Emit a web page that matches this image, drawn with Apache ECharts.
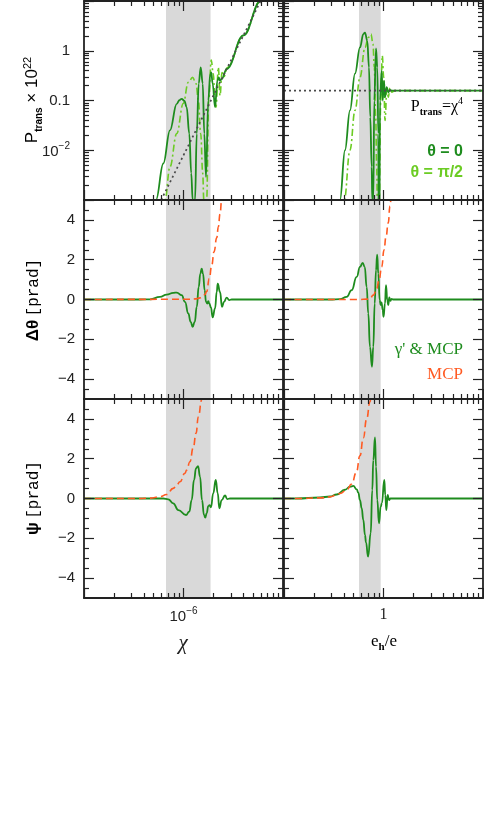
<!DOCTYPE html>
<html><head><meta charset="utf-8">
<script src="https://cdn.jsdelivr.net/npm/echarts@6/dist/echarts.min.js"></script>
<style>html,body{margin:0;padding:0;background:#fff}#c{width:484px;height:830px}</style>
</head><body><div id="c"></div>
<script>
// ---------- tick values ----------
const chiMajor = [1e-7, 1e-6, 1e-5];
const chiMinor = [2e-7,3e-7,4e-7,5e-7,6e-7,7e-7,8e-7,9e-7,2e-6,3e-6,4e-6,5e-6,6e-6,7e-6,8e-6,9e-6];
const ehMajor = [0.1, 1, 10];
const ehMinor = [0.2,0.3,0.4,0.5,0.6,0.7,0.8,0.9,2,3,4,5,6,7,8,9];
const pMajor = [1e-3, 1e-2, 0.1, 1, 10];
const pMinor = [2e-3,3e-3,4e-3,5e-3,6e-3,7e-3,8e-3,9e-3,0.02,0.03,0.04,0.05,0.06,0.07,0.08,0.09,0.2,0.3,0.4,0.5,0.6,0.7,0.8,0.9,2,3,4,5,6,7,8,9];
const linMajor = [-4, -2, 0, 2, 4];
const linMinor = [-4.5,-3.5,-3,-2.5,-1.5,-1,-0.5,0.5,1,1.5,2.5,3,3.5,4.5];
const pLabels = [1e-2, 0.1, 1];
const linLabels = [-4, -2, 0, 2, 4];
const chiLabels = [1e-6];
const ehLabels = [1];

// ---------- shaded bands ----------
const chiBand = [6.67e-7, 1.87e-6];
const ehBand = [0.567, 0.937];

// ---------- top-left: P_trans vs chi ----------
const ptChiTheta0 = [
 [5.0e-7,6e-4],[5.29e-7,1.0e-3],[6.27e-7,5.42e-3],[7.31e-7,0.0251],[8.55e-7,0.0859],[9.12e-7,0.102],
 [9.59e-7,0.108],[1.023e-6,0.0977],[1.076e-6,0.0735],[1.143e-6,0.0216],[1.196e-6,3.47e-3],[1.236e-6,1.0e-3],
 [1.27e-6,1e-5],[1.306e-6,1.0e-3],[1.359e-6,0.0216],[1.422e-6,0.219],[1.489e-6,0.463],[1.560e-6,0.219],
 [1.618e-6,0.0216],[1.683e-6,2.92e-3],[1.774e-6,0.1],[1.858e-6,0.342],[1.901e-6,0.368],[1.963e-6,0.219],
 [2.075e-6,0.0735],[2.188e-6,0.251],[2.260e-6,0.292],[2.328e-6,0.251],[2.421e-6,0.272],[2.716e-6,0.43],
 [4.0e-6,2.03],[5.96e-6,10],[7.0e-6,19]
];
const ptChiThetaHalfPi = [
 [6.08e-7,6.3e-4],[6.52e-7,1.0e-3],[7.31e-7,4.63e-3],[8.55e-7,0.0216],[9.95e-7,0.0871],[1.117e-6,0.232],
 [1.236e-6,0.292],[1.337e-6,0.219],[1.410e-6,0.1],[1.489e-6,0.0216],[1.560e-6,3.47e-3],[1.60e-6,1.0e-3],
 [1.644e-6,1e-5],[1.710e-6,1.0e-3],[1.791e-6,0.1],[1.901e-6,0.652],[1.990e-6,0.347],[2.075e-6,0.1],
 [2.123e-6,0.0735],[2.239e-6,0.463],[2.328e-6,0.126],[2.438e-6,0.363],[2.553e-6,0.302],[2.754e-6,0.46],
 [4.0e-6,2.03],[5.96e-6,10],[7.0e-6,19]
];
const ptChiAsym = [[5.96e-7,1e-3],[5.96e-6,10]];

// ---------- top-right: P_trans vs e_h/e ----------
const ptEhTheta0 = [
 [0.350,6.5e-4],[0.3654,1.0e-3],[0.410,0.01],[0.4605,0.0631],[0.5171,0.347],[0.5804,1.164],[0.6266,2.158],
 [0.6516,2.32],[0.6871,1.585],[0.7146,0.463],[0.7364,0.0463],[0.7607,4.63e-3],[0.7713,1.0e-3],[0.780,1e-5],
 [0.7894,1.0e-3],[0.8081,0.1],[0.8406,1.112],[0.8664,0.463],[0.8865,0.0216],[0.9011,1e-5],[0.9222,0.1],
 [0.9592,0.398],[0.9817,0.1],[1.0116,0.251],[1.035,0.116],[1.076,0.1845],[1.117,0.1466],[1.161,0.1637],
 [1.216,0.158],[10,0.158]
];
const ptEhThetaHalfPi = [
 [0.392,6.3e-4],[0.4036,1.0e-3],[0.4605,0.01],[0.5171,0.0631],[0.5804,0.292],[0.6516,1.164],[0.7031,1.845],
 [0.7485,2.158],[0.7840,1.361],[0.8081,0.463],[0.8348,0.0463],[0.8545,4.63e-3],[0.8664,1.0e-3],[0.884,1e-5],
 [0.9073,1.0e-3],[0.9374,0.1],[0.9725,0.794],[1.0046,0.292],[1.035,0.0398],[1.084,0.1845],[1.117,0.116],
 [1.161,0.179],[1.208,0.1466],[1.306,0.158],[10,0.158]
];
const ptEhAsym = [[0.1,0.158],[10,0.158]];

// ---------- middle: delta theta ----------
const dthChiFull = [
 [1e-7,0],[3.65e-7,0],[4.61e-7,0.01],[5.80e-7,0.13],[6.78e-7,0.25],[7.88e-7,0.33],[8.55e-7,0.35],
 [9.59e-7,0.22],[1.035e-6,-0.12],[1.117e-6,-0.70],[1.180e-6,-1.12],[1.236e-6,-1.37],[1.297e-6,-1.12],
 [1.359e-6,-0.37],[1.422e-6,0.63],[1.476e-6,1.30],[1.524e-6,1.55],[1.570e-6,1.30],[1.633e-6,0.47],
 [1.683e-6,-0.12],[1.734e-6,-0.20],[1.774e-6,-0.08],[1.816e-6,-0.20],[1.888e-6,-0.40],[1.963e-6,-0.90],
 [2.075e-6,-0.45],[2.158e-6,0.38],[2.208e-6,0.80],[2.328e-6,0.38],[2.438e-6,-0.37],[2.553e-6,-0.12],
 [2.716e-6,0.09],[2.884e-6,-0.03],[3.048e-6,0],[1e-5,0]
];
const dthChiMcp = [
 [1e-7,0],[1.161e-6,0.01],[1.306e-6,0.03],[1.466e-6,0.08],[1.570e-6,0.15],[1.644e-6,0.25],[1.710e-6,0.40],
 [1.816e-6,1.05],[1.919e-6,1.70],[2.028e-6,2.40],[2.158e-6,3.10],[2.239e-6,3.65],[2.328e-6,4.30],
 [2.421e-6,5.0],[2.5e-6,5.5]
];
const dthEhFull = [
 [0.1,0],[0.290,0],[0.3654,0.02],[0.4266,0.13],[0.4786,0.47],[0.5379,1.14],[0.5804,1.64],[0.618,1.84],
 [0.6471,1.64],[0.6776,0.63],[0.7031,-0.70],[0.7313,-2.38],[0.7660,-3.38],[0.7894,-2.38],[0.8157,-0.20],
 [0.8406,1.47],[0.864,2.26],[0.8865,1.30],[0.9158,-0.03],[0.9374,-0.28],[0.955,-0.14],[0.9817,-0.54],
 [1.0,-0.87],[1.035,-0.20],[1.059,0.72],[1.092,-0.03],[1.117,-0.28],[1.143,0.10],[1.170,-0.07],
 [1.208,0.03],[1.246,0],[10,0]
];
const dthEhMcp = [
 [0.1,0],[0.5804,0],[0.6776,0.02],[0.7313,0.05],[0.7894,0.22],[0.8545,0.55],[0.9011,0.97],[0.9592,1.64],
 [1.0116,2.48],[1.059,3.15],[1.117,3.85],[1.161,4.7],[1.19,5.2]
];

// ---------- bottom: psi ----------
const psiChiFull = [
 [1e-7,0],[5.80e-7,0],[6.27e-7,0.0],[7.03e-7,-0.04],[7.88e-7,-0.24],[8.87e-7,-0.58],[1.059e-6,-0.83],
 [1.143e-6,-0.66],[1.208e-6,-0.08],[1.276e-6,0.93],[1.337e-6,1.52],[1.400e-6,1.63],[1.466e-6,1.10],
 [1.535e-6,-0.08],[1.607e-6,-0.83],[1.656e-6,-0.96],[1.710e-6,-0.74],[1.774e-6,-0.38],[1.832e-6,-0.33],
 [1.888e-6,-0.44],[1.990e-6,0.26],[2.109e-6,0.93],[2.208e-6,0.26],[2.291e-6,-0.49],[2.421e-6,-0.08],
 [2.612e-6,0.15],[2.754e-6,-0.03],[2.93e-6,0],[1e-5,0]
];
const psiChiMcp = [
 [1e-7,0],[3.65e-7,0],[4.61e-7,0.02],[5.80e-7,0.09],[6.78e-7,0.2],[7.88e-7,0.51],[8.55e-7,0.68],
 [9.22e-7,0.84],[1.035e-6,1.27],[1.076e-6,1.43],[1.161e-6,1.85],[1.253e-6,2.56],[1.337e-6,3.28],
 [1.410e-6,4.11],[1.524e-6,4.95],[1.553e-6,5.2]
];
const psiEhFull = [
 [0.1,0],[0.134,0],[0.230,0.05],[0.290,0.1],[0.3385,0.2],[0.410,0.44],[0.4605,0.59],[0.4971,0.63],
 [0.5379,0.46],[0.5580,0.30],[0.5804,-0.08],[0.6037,-0.49],[0.6266,-1.08],[0.6516,-1.83],[0.6668,-2.2],
 [0.700,-2.92],[0.7434,-1.75],[0.7713,0.43],[0.7894,1.93],[0.8214,3.07],[0.8406,1.60],[0.8664,-0.08],
 [0.9011,-1.25],[0.9374,-0.41],[0.963,-0.23],[1.0186,0.93],[1.042,0.18],[1.067,-0.58],[1.102,0.18],
 [1.136,-0.08],[1.175,0],[10,0]
];
const psiEhMcp = [
 [0.1,0],[0.134,0],[0.230,0.03],[0.290,0.08],[0.3385,0.18],[0.3654,0.25],[0.4266,0.43],[0.4786,0.73],
 [0.5328,1.30],[0.5804,2.15],[0.6266,3.04],[0.6776,4.0],[0.7313,4.85],[0.7485,5.15]
];

// ---------- styling ----------
const DG = '#1e8c1e', LG = '#6ccc24', OR = '#ff5a22', DOT = '#4a4a4a', INK = '#222';
const SANS = 'Liberation Sans', SERIF = 'Liberation Serif', MONO = 'Liberation Mono';

const grids = [
  {left:84, top:1, width:199, height:199},
  {left:284, top:1, width:199, height:199},
  {left:84, top:200, width:199, height:199},
  {left:284, top:200, width:199, height:199},
  {left:84, top:399, width:199, height:199},
  {left:284, top:399, width:199, height:199}
];

const xAxes = [], yAxes = [];
function pushAxes(list, gridIndex, isX, type, min, max, majors, minors, label) {
  const idx = list.length;
  const sides = isX ? ['bottom','top'] : ['left','right'];
  sides.forEach((side, k) => {
    [true, false].forEach(major => {
      const ax = {
        gridIndex, type, min, max, position: side, z: 10,
        splitLine: {show:false}, minorTick:{show:false}, minorSplitLine:{show:false},
        axisLine: {show: major, onZero:false, lineStyle:{color:INK, width:1.8}},
        axisTick: {show:true, inside:true, length: major?10:5, customValues: major?majors:minors,
                   lineStyle:{color:INK, width:1.2}},
        axisLabel: {show:false},
        axisPointer: {show:false}
      };
      if (type === 'log') ax.logBase = 10;
      if (major && k === 0 && label) ax.axisLabel = Object.assign({show:true}, label);
      list.push(ax);
    });
  });
  return idx;
}
const richTick = {
  n:{fontSize:15, fontFamily:SANS, color:INK, verticalAlign:'bottom'},
  sup:{fontSize:10, fontFamily:SANS, color:INK, verticalAlign:'bottom', padding:[0,0,8,0]}
};
const pLabel = {customValues:pLabels, margin:14, fontSize:15, fontFamily:SANS, color:INK, rich:richTick,
  formatter: v => { const e = Math.round(Math.log10(v)); return e === -2 ? '{n|10}{sup|−2}' : (e === -1 ? '{n|0.1}' : '{n|1}'); }};
const linLabel = {customValues:linLabels, margin:9, fontSize:15, fontFamily:SANS, color:INK,
  formatter: v => String(v).replace('-', '−')};
const chiLabel = {customValues:chiLabels, margin:8, fontSize:15, fontFamily:SANS, color:INK, rich:richTick,
  formatter: () => '{n|10}{sup|−6}'};
const ehLabel = {customValues:ehLabels, margin:9, fontSize:16, fontFamily:SERIF, color:INK, formatter: () => '1'};

const xMain = [], yMain = [];
for (let g = 0; g < 6; g++) {
  const left = g % 2 === 0, row = Math.floor(g / 2);
  xMain[g] = left
    ? pushAxes(xAxes, g, true, 'log', 1e-7, 1e-5, chiMajor, chiMinor, row === 2 ? chiLabel : null)
    : pushAxes(xAxes, g, true, 'log', 0.1, 10, ehMajor, ehMinor, row === 2 ? ehLabel : null);
  yMain[g] = row === 0
    ? pushAxes(yAxes, g, false, 'log', 1e-3, 10, pMajor, pMinor, left ? pLabel : null)
    : pushAxes(yAxes, g, false, 'value', -5, 5, linMajor, linMinor, left ? linLabel : null);
}

function line(g, data, color, width, type, z, smooth) {
  return {type:'line', xAxisIndex:xMain[g], yAxisIndex:yMain[g], data, symbol:'none', showSymbol:false,
    smooth: smooth === undefined ? 0.5 : smooth, smoothMonotone:'x', clip:true, silent:true, z,
    lineStyle:{color, width, type}};
}
function band(g, range) {
  return {type:'line', xAxisIndex:xMain[g], yAxisIndex:yMain[g], data:[], silent:true, z:1,
    markArea:{silent:true, z:1, itemStyle:{color:'#d9d9d9', opacity:1}, label:{show:false},
      data:[[{xAxis:range[0]},{xAxis:range[1]}]]}};
}

const series = [
  band(0, chiBand), band(1, ehBand), band(2, chiBand), band(3, ehBand), band(4, chiBand), band(5, ehBand),
  line(0, ptChiThetaHalfPi, LG, 1.6, [7,3,2,3], 3, 0.4),
  line(0, ptChiTheta0, DG, 1.8, 'solid', 4, 0.4),
  line(0, ptChiAsym, DOT, 1.7, [2,3], 5, false),
  line(1, ptEhThetaHalfPi, LG, 1.6, [7,3,2,3], 3, 0.4),
  line(1, ptEhTheta0, DG, 1.8, 'solid', 4, 0.4),
  line(1, ptEhAsym, DOT, 1.7, [2,3], 5, false),
  line(2, dthChiFull, DG, 1.8, 'solid', 3),
  line(2, dthChiMcp, OR, 1.6, [7,4], 4),
  line(3, dthEhFull, DG, 1.8, 'solid', 3),
  line(3, dthEhMcp, OR, 1.6, [7,4], 4),
  line(4, psiChiFull, DG, 1.8, 'solid', 3),
  line(4, psiChiMcp, OR, 1.6, [7,4], 4),
  line(5, psiEhFull, DG, 1.8, 'solid', 3),
  line(5, psiEhMcp, OR, 1.6, [7,4], 4)
];

const titleRich = {
  n:{fontSize:17, fontFamily:SANS, color:INK, verticalAlign:'bottom', padding:[0,0,3,0]},
  sub:{fontSize:10, fontFamily:SANS, fontWeight:'bold', color:INK, verticalAlign:'bottom'},
  sup:{fontSize:11, fontFamily:SANS, color:INK, verticalAlign:'bottom', padding:[0,0,11,0]},
  g:{fontSize:17, fontFamily:SANS, fontWeight:'bold', color:INK, verticalAlign:'bottom'},
  m:{fontSize:16, fontFamily:MONO, color:INK, verticalAlign:'bottom'}
};
function txt(x, y, text, rich, rot) {
  return {type:'text', x, y, rotation: rot || 0, z:20, silent:true,
    style:{text, rich, align:'center', verticalAlign:'middle'}};
}
const graphics = [
  txt(33, 100, '{n|P}{sub|trans}{n| × 10}{sup|22}', titleRich, Math.PI/2),
  txt(33, 300, '{g|Δθ} {m|[prad]}', titleRich, Math.PI/2),
  txt(33, 498, '{g|ψ} {m|[prad]}', titleRich, Math.PI/2),
  {type:'text', x:183, y:643, z:20, silent:true, style:{text:'χ', fontSize:21, fontStyle:'italic', fontFamily:SERIF, fill:INK, align:'center', verticalAlign:'middle'}},
  txt(384, 643, '{a|e}{b|h}{a|/e}', {
    a:{fontSize:17, fontFamily:SERIF, color:INK, verticalAlign:'bottom', padding:[0,0,3,0]},
    b:{fontSize:11, fontFamily:SERIF, fontWeight:'bold', color:INK, verticalAlign:'bottom'}}, 0),
  {type:'text', x:463, y:107, z:20, silent:true, style:{text:'{a|P}{b|trans}{a|=χ}{c|4}', align:'right', verticalAlign:'middle',
    rich:{a:{fontSize:16, fontFamily:SERIF, color:'#444', verticalAlign:'bottom', padding:[0,0,3,0]},
          b:{fontSize:10, fontFamily:SERIF, fontWeight:'bold', color:'#444', verticalAlign:'bottom'},
          c:{fontSize:10, fontFamily:SERIF, color:'#444', verticalAlign:'bottom', padding:[0,0,11,0]}}}},
  {type:'text', x:463, y:152, z:20, silent:true, style:{text:'θ = 0', fontSize:16, fontWeight:'bold', fontFamily:SANS, fill:DG, align:'right', verticalAlign:'middle'}},
  {type:'text', x:463, y:173, z:20, silent:true, style:{text:'θ = π/2', fontSize:16, fontWeight:'bold', fontFamily:SANS, fill:LG, align:'right', verticalAlign:'middle'}},
  {type:'text', x:463, y:350, z:20, silent:true, style:{text:"γ' & MCP", fontSize:17, fontFamily:SERIF, fill:DG, align:'right', verticalAlign:'middle'}},
  {type:'text', x:463, y:375, z:20, silent:true, style:{text:'MCP', fontSize:17, fontFamily:SERIF, fill:OR, align:'right', verticalAlign:'middle'}}
];

const chart = echarts.init(document.getElementById('c'), null, {renderer:'canvas'});
chart.setOption({
  animation:false,
  backgroundColor:'#fff',
  grid: grids,
  xAxis: xAxes,
  yAxis: yAxes,
  series,
  graphic: graphics
});
</script></body></html>
